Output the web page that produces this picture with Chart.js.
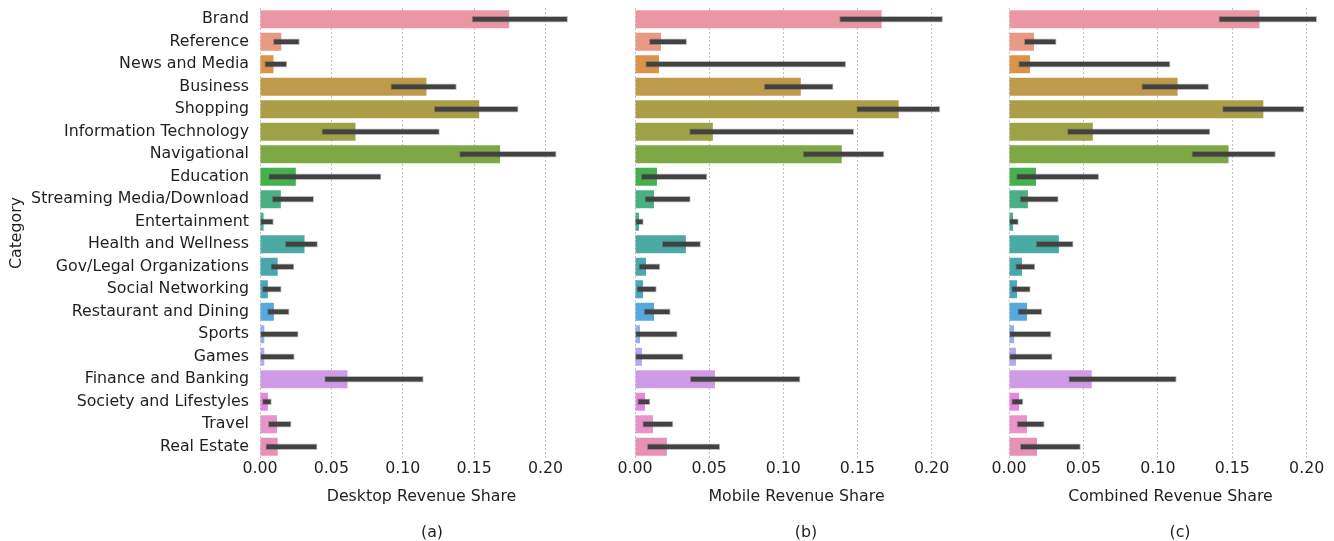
<!DOCTYPE html>
<html>
<head>
<meta charset="utf-8">
<script src="https://cdn.jsdelivr.net/npm/chart.js@4.4.1/dist/chart.umd.min.js"></script>
<style>
  body { margin: 0; background: #fff; }
  #wrap { position: relative; width: 1334px; height: 541px; overflow: hidden; }
  #wrap canvas { position: absolute; top: 0; }
  .cap { position: absolute; top: 522px; width: 60px; margin-left: -30px; text-align: center;
         font: 15.8px "DejaVu Sans", sans-serif; color: #1f1f1f; }
</style>
</head>
<body>
<div id="wrap">
  <canvas id="desk" style="left:0px" width="585" height="541"></canvas>
  <canvas id="mob" style="left:605px" width="355" height="541"></canvas>
  <canvas id="comb" style="left:979px" width="355" height="541"></canvas>
  <div class="cap" style="left:432px">(a)</div>
  <div class="cap" style="left:806px">(b)</div>
  <div class="cap" style="left:1180px">(c)</div>
</div>
<script>
const categories = ["Brand", "Reference", "News and Media", "Business", "Shopping",
  "Information Technology", "Navigational", "Education", "Streaming Media/Download",
  "Entertainment", "Health and Wellness", "Gov/Legal Organizations", "Social Networking",
  "Restaurant and Dining", "Sports", "Games", "Finance and Banking",
  "Society and Lifestyles", "Travel", "Real Estate"]

const palette = ["#ea96a3", "#e99a85", "#d9934a", "#bf9a4a", "#ac9e47", "#9ea247",
  "#7ea845", "#47b04e", "#4aaf83", "#4aad99", "#4baaa3", "#4aa8ad", "#4ba6be",
  "#57a8dc", "#96aee8", "#b6a8ec", "#cf9be6", "#e688df", "#e893cc", "#e891b6"]

const xTicks = [0, 0.05, 0.10, 0.15, 0.20]

// mean revenue share per category
const desktopShare = [0.1746, 0.0149, 0.0094, 0.1166, 0.1536, 0.0669, 0.1682, 0.0251, 0.0146, 0.0025,
  0.0312, 0.0124, 0.0055, 0.0097, 0.0030, 0.0030, 0.0613, 0.0055, 0.0119, 0.0124]
const mobileShare = [0.1663, 0.0175, 0.0162, 0.1118, 0.1778, 0.0525, 0.1394, 0.0148, 0.0128, 0.0027,
  0.0343, 0.0074, 0.0054, 0.0128, 0.0034, 0.0047, 0.0539, 0.0067, 0.0121, 0.0215]
const combinedShare = [0.1683, 0.0168, 0.0141, 0.1133, 0.1709, 0.0563, 0.1475, 0.0181, 0.0127, 0.0027,
  0.0335, 0.0087, 0.0054, 0.0121, 0.0034, 0.0047, 0.0556, 0.0067, 0.0121, 0.0188]

// confidence intervals (low / high)
const desktopLow = [0.1486, 0.0094, 0.0033, 0.0917, 0.1221, 0.0434, 0.1398, 0.0061, 0.0086, 0.0000,
  0.0177, 0.0077, 0.0017, 0.0052, 0.0000, 0.0000, 0.0453, 0.0017, 0.0058, 0.0041]
const desktopHigh = [0.2155, 0.0276, 0.0188, 0.1376, 0.1809, 0.1257, 0.2075, 0.0848, 0.0376, 0.0094,
  0.0403, 0.0238, 0.0149, 0.0204, 0.0268, 0.0240, 0.1144, 0.0080, 0.0218, 0.0400]
const mobileLow = [0.1380, 0.0097, 0.0072, 0.0871, 0.1495, 0.0368, 0.1134, 0.0043, 0.0067, 0.0000,
  0.0184, 0.0027, 0.0013, 0.0061, 0.0000, 0.0000, 0.0373, 0.0018, 0.0052, 0.0083]
const mobileHigh = [0.2074, 0.0348, 0.1421, 0.1336, 0.2056, 0.1475, 0.1679, 0.0485, 0.0373, 0.0056,
  0.0442, 0.0168, 0.0144, 0.0238, 0.0285, 0.0325, 0.1113, 0.0101, 0.0256, 0.0572]
const combinedLow = [0.1410, 0.0103, 0.0065, 0.0892, 0.1435, 0.0393, 0.1229, 0.0051, 0.0074, 0.0000,
  0.0183, 0.0045, 0.0018, 0.0060, 0.0000, 0.0000, 0.0402, 0.0018, 0.0054, 0.0076]
const combinedHigh = [0.2067, 0.0317, 0.1082, 0.1341, 0.1982, 0.1350, 0.1790, 0.0603, 0.0331, 0.0063,
  0.0431, 0.0174, 0.0143, 0.0221, 0.0282, 0.0290, 0.1124, 0.0094, 0.0237, 0.0480]

Chart.defaults.font.family = '"DejaVu Sans", sans-serif'
Chart.defaults.font.size = 15.8
Chart.defaults.color = '#1f1f1f'
Chart.defaults.animation = false

// keep tick labels from pushing the plot area in
function noEdgePadding(s) {
	s.paddingTop = 0
	s.paddingBottom = 0
	s.paddingLeft = 0
	s.paddingRight = 0
}

function makePanel(id, share, low, high, xTitle, xMax, withLabels) {
	return new Chart(document.getElementById(id), {
		type: 'bar',
		data: {
			labels: categories,
			datasets: [{
				data: low.map((v, i) => [v, high[i]]),
				backgroundColor: '#424242',
				borderColor: 'rgba(66,66,66,0.35)',
				borderWidth: 1,
				borderSkipped: false,
				barThickness: 6,
				grouped: false,
				order: 0
			}, {
				data: share,
				backgroundColor: palette,
				borderWidth: 0,
				categoryPercentage: 0.8,
				barPercentage: 1.0,
				grouped: false,
				order: 1
			}]
		},
		options: {
			indexAxis: 'y',
			responsive: false,
			layout: { padding: { top: 8, right: 2, left: withLabels ? 0 : 30, bottom: 0 } },
			plugins: { legend: { display: false }, tooltip: { enabled: false } },
			scales: {
				x: {
					min: 0,
					max: xMax,
					afterBuildTicks: s => { s.ticks = xTicks.map(v => ({ value: v })) },
					afterFit: s => { s.height = 83; noEdgePadding(s) },
					ticks: { padding: 1, maxRotation: 0, callback: v => v.toFixed(2) },
					grid: { color: '#c2c2c2', lineWidth: 1, drawTicks: false },
					border: { display: false, dash: [2, 2] },
					title: { display: true, text: xTitle, padding: { top: 0, bottom: 35 } }
				},
				y: {
					display: withLabels,
					afterFit: s => { s.width = withLabels ? 260 : 0; noEdgePadding(s) },
					ticks: { padding: 11 },
					grid: { display: false, drawTicks: false },
					border: { display: false },
					title: { display: true, text: 'Category', padding: { top: 7, bottom: 0 } }
				}
			}
		}
	})
}

makePanel('desk', desktopShare, desktopLow, desktopHigh, 'Desktop Revenue Share', 0.2263, true)
makePanel('mob', mobileShare, mobileLow, mobileHigh, 'Mobile Revenue Share', 0.2178, false)
makePanel('comb', combinedShare, combinedLow, combinedHigh, 'Combined Revenue Share', 0.2170, false)
</script>
</body>
</html>
